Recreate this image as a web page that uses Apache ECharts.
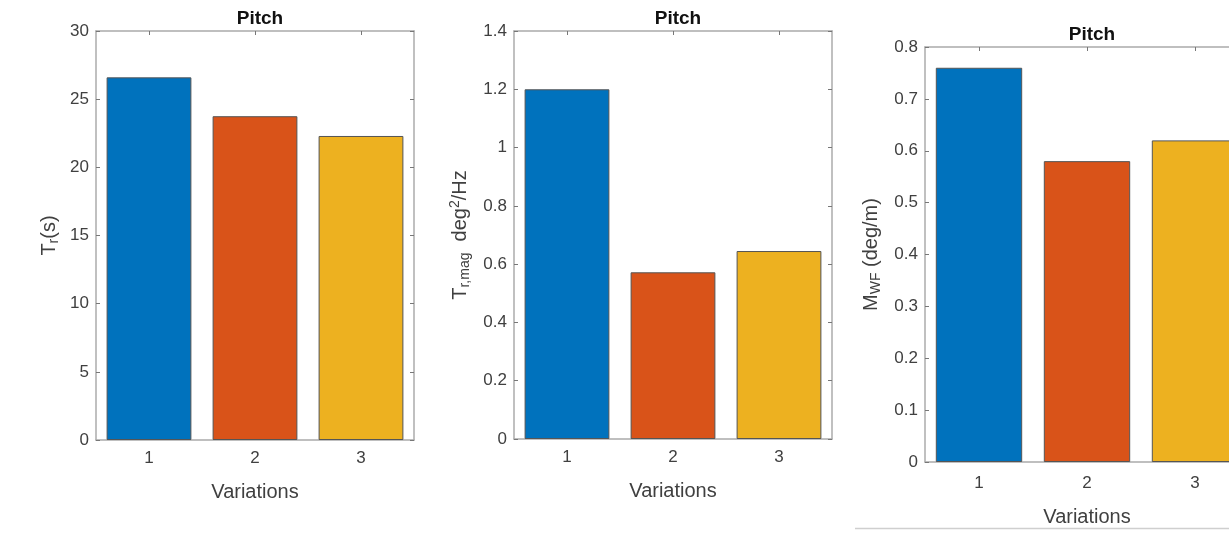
<!DOCTYPE html>
<html>
<head>
<meta charset="utf-8">
<script src="https://cdn.jsdelivr.net/npm/echarts@6/dist/echarts.min.js"></script>
<style>
html,body{margin:0;padding:0;overflow:hidden;background:#fff;}
#c{width:1280px;height:533px;}
</style>
</head>
<body>
<div id="c"></div>
<script>
var categories = ['1', '2', '3'];
var trValues = [26.6, 23.75, 22.3];
var trMagValues = [1.2, 0.572, 0.645];
var mwfValues = [0.76, 0.58, 0.62];
var barColors = ['#0072BD', '#D95319', '#EDB120'];
var yTicks1 = {min: 0, max: 30, interval: 5};
var yTicks2 = {min: 0, max: 1.4, interval: 0.2};
var yTicks3 = {min: 0, max: 0.8, interval: 0.1};

var FONT = 'Liberation Sans, Arial, Helvetica, sans-serif';
var TXT = '#404040';
var AX = '#ababab';

var grids = [
  {left: 96, width: 318, top: 31, height: 409},
  {left: 514, width: 318, top: 31, height: 408},
  {left: 925, width: 324, top: 47, height: 415}
];

function xAxes(i, margin, gap) {
  return [
    {type: 'category', gridIndex: i, data: categories, position: 'bottom',
     axisLine: {onZero: false, lineStyle: {color: AX, width: 1.5}},
     axisTick: {show: true, inside: true, alignWithLabel: true, length: 4, lineStyle: {color: '#777'}},
     axisLabel: {color: TXT, fontSize: 17, fontFamily: FONT, margin: margin},
     name: 'Variations', nameLocation: 'middle', nameGap: gap,
     nameTextStyle: {color: TXT, fontSize: 20, fontFamily: FONT}},
    {type: 'category', gridIndex: i, data: categories, position: 'top',
     axisLine: {onZero: false, lineStyle: {color: AX, width: 1.5}},
     axisTick: {show: true, inside: true, alignWithLabel: true, length: 4, lineStyle: {color: '#777'}},
     axisLabel: {show: false}}
  ];
}
function yAxes(i, t, name, gap, rich) {
  return [
    {type: 'value', gridIndex: i, position: 'left', min: t.min, max: t.max, interval: t.interval,
     axisLine: {show: true, onZero: false, lineStyle: {color: AX, width: 1.5}},
     axisTick: {show: true, inside: true, length: 4, lineStyle: {color: '#777'}},
     splitLine: {show: false},
     axisLabel: {color: TXT, fontSize: 17, fontFamily: FONT, margin: 7},
     name: name, nameLocation: 'middle', nameGap: gap, nameRotate: 90,
     nameTextStyle: {color: TXT, fontSize: 20, fontFamily: FONT, rich: rich}},
    {type: 'value', gridIndex: i, position: 'right', min: t.min, max: t.max, interval: t.interval,
     axisLine: {show: true, onZero: false, lineStyle: {color: AX, width: 1.5}},
     axisTick: {show: true, inside: true, length: 4, lineStyle: {color: '#777'}},
     splitLine: {show: false},
     axisLabel: {show: false}}
  ];
}

var richBase = {
  sub: {fontSize: 14, color: TXT, fontFamily: FONT, padding: [10, 0, 0, 0]},
  sup: {fontSize: 14, color: TXT, fontFamily: FONT, padding: [0, 0, 10, 0]}
};

var titleStyle = {fontSize: 19, fontWeight: 'bold', color: '#111', fontFamily: FONT};

var option = {
  animation: false,
  color: barColors,
  textStyle: {fontFamily: FONT},
  title: [
    {text: 'Pitch', left: 255, top: 4, textAlign: 'center', textStyle: titleStyle},
    {text: 'Pitch', left: 673, top: 4, textAlign: 'center', textStyle: titleStyle},
    {text: 'Pitch', left: 1087, top: 20, textAlign: 'center', textStyle: titleStyle}
  ],
  grid: grids,
  xAxis: [].concat(xAxes(0, 10, 42), xAxes(1, 10, 42), xAxes(2, 13, 45)),
  yAxis: [].concat(
    yAxes(0, yTicks1, 'T{sub|r}(s)', 35, richBase),
    yAxes(1, yTicks2, 'T{sub|r,mag}  deg{sup|2}/Hz', 42, richBase),
    yAxes(2, yTicks3, 'M{sub|WF} (deg/m)', 42, richBase)
  ),
  series: [
    {type: 'bar', xAxisIndex: 0, yAxisIndex: 0, data: trValues, colorBy: 'data', barWidth: '80%',
     itemStyle: {borderColor: '#555', borderWidth: 1}},
    {type: 'bar', xAxisIndex: 2, yAxisIndex: 2, data: trMagValues, colorBy: 'data', barWidth: '80%',
     itemStyle: {borderColor: '#555', borderWidth: 1}},
    {type: 'bar', xAxisIndex: 4, yAxisIndex: 4, data: mwfValues, colorBy: 'data', barWidth: '80%',
     itemStyle: {borderColor: '#555', borderWidth: 1}}
  ],
  graphic: [
    {type: 'line', shape: {x1: 855, y1: 528.5, x2: 1229, y2: 528.5},
     style: {stroke: '#cfcfcf', lineWidth: 1.5}}
  ]
};

var chart = echarts.init(document.getElementById('c'), null, {renderer: 'canvas'});
chart.setOption(option);
</script>
</body>
</html>
